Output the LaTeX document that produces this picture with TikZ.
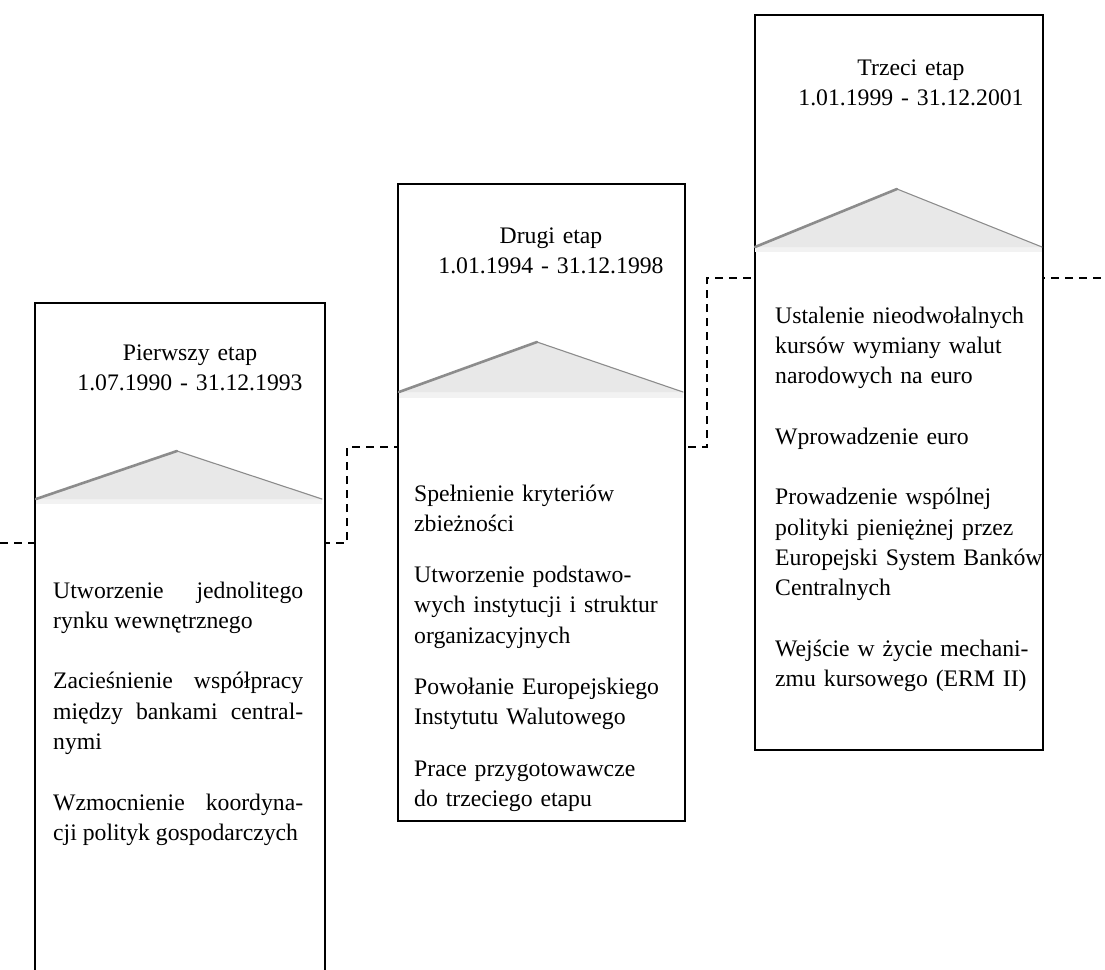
\documentclass[tikz,border=0pt]{standalone}
\usepackage{fontspec}
\setmainfont{Liberation Serif}
\begin{document}
\begin{tikzpicture}[x=1pt,y=-1pt,
  frame/.style={draw=black, line width=1.8pt, fill=white, inner sep=0pt, anchor=north west},
  frameedge/.style={draw=black, line width=1.8pt},
  stage/.style={line width=1.9pt, dash pattern=on 8pt off 6pt},
  roof/.style={fill=black!9},
  roofband/.style={fill=black!5},
  roofleft/.style={draw=black!45, line width=2.6pt, line cap=round},
  roofright/.style={draw=black!45, line width=1.1pt, line cap=round},
  txt/.style={font=\fontsize{23.7}{30.3}\selectfont, inner sep=0pt, anchor=base west},
  head/.style={font=\fontsize{23.7}{30.3}\selectfont, inner sep=0pt, anchor=base, text width=280pt, align=center}
]
\useasboundingbox (0,0) rectangle (1105,969);

% staircase dashed line
\coordinate (d0) at (0,543);
\coordinate (d1) at (347,543);
\coordinate (d2) at (347,447);
\coordinate (d3) at (707,447);
\coordinate (d4) at (707,278);
\coordinate (d5) at (1105,278);
\draw[stage] (d0) -- (d1) -- (d2) -- (d3) -- (d4) -- (d5);

% boxes
\node[frame, draw=none, minimum width=288pt, minimum height=690pt] (box1) at (35,303) {};
\draw[frameedge] (box1.south west) -- (box1.north west) -- (box1.north east) -- (box1.south east);
\node[frame, minimum width=287pt, minimum height=637pt] (box2) at (397,183) {};
\node[frame, minimum width=288pt, minimum height=735pt] (box3) at (754,14) {};

% roofs
\coordinate (l1) at (36,499);  \coordinate (a1) at (177,451); \coordinate (r1) at (322,499); \coordinate (e1) at (322,504);
\coordinate (l2) at (399,392); \coordinate (a2) at (537,342); \coordinate (r2) at (683,392); \coordinate (e2) at (683,398);
\coordinate (l3) at (755,247); \coordinate (a3) at (897,189); \coordinate (r3) at (1042,247); \coordinate (e3) at (1042,252);
\foreach \i in {1,2,3}{
  \fill[roofband] (l\i) rectangle (e\i);
  \fill[roof] (l\i) -- (a\i) -- (r\i) -- cycle;
  \draw[roofleft] (l\i) -- (a\i);
  \draw[roofright] (a\i) -- (r\i);
}

% headings
\node[head] (h1) at (190,360) {Pierwszy etap\\1.07.1990 - 31.12.1993};
\node[head] (h2) at (551,243) {Drugi etap\\1.01.1994 - 31.12.1998};
\node[head] (h3) at (911,75) {Trzeci etap\\1.01.1999 - 31.12.2001};

% body texts
\node[txt, text width=250pt, align=justify] (t1) at (53,598) {%
Utworzenie jednolitego\linebreak rynku wewnętrznego\par\vspace{30.3pt}%
Zacieśnienie współpracy\linebreak między bankami central-\linebreak nymi\par\vspace{30.3pt}%
Wzmocnienie koordyna-\linebreak cji polityk gospodarczych};

\node[txt, text width=268pt, align=left] (t2) at (414,501) {%
Spełnienie kryteriów\\zbieżności\\[21pt]%
Utworzenie podstawo-\\wych instytucji i struktur\\organizacyjnych\\[21pt]%
Powołanie Europejskiego\\Instytutu Walutowego\\[21pt]%
Prace przygotowawcze\\do trzeciego etapu};

\node[txt, text width=275pt, align=left] (t3) at (775,323) {%
Ustalenie nieodwołalnych\\kursów wymiany walut\\narodowych na euro\\[30.3pt]%
Wprowadzenie euro\\[30.3pt]%
Prowadzenie wspólnej\\polityki pieniężnej przez\\Europejski System Banków\\Centralnych\\[30.3pt]%
Wejście w życie mechani-\\zmu kursowego (ERM II)};
\end{tikzpicture}
\end{document}
